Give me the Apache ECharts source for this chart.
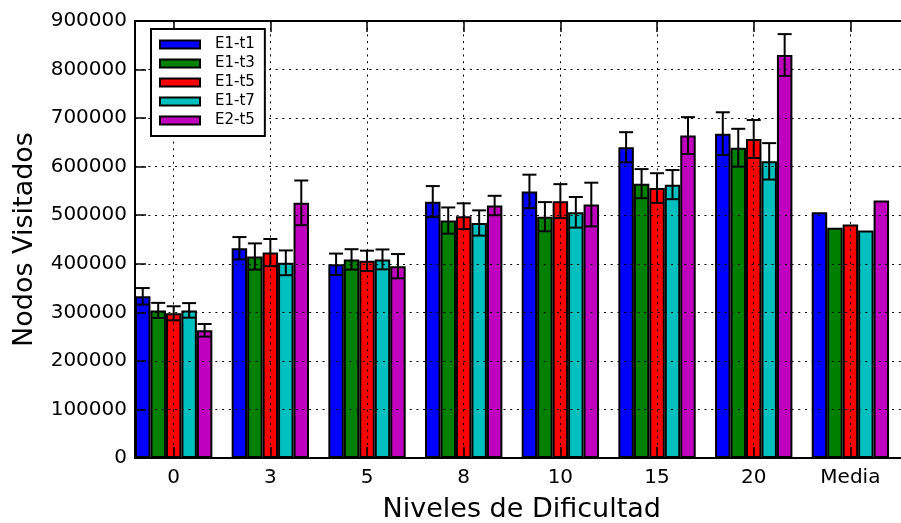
<!DOCTYPE html>
<html><head><meta charset="utf-8">
<script src="https://cdn.jsdelivr.net/npm/echarts@6/dist/echarts.min.js"></script>
<style>html,body{margin:0;padding:0;background:#fff}#c{width:901px;height:523px}</style>
</head><body><div id="c"></div>
<script>
const categories = ['0', '3', '5', '8', '10', '15', '20', 'Media'];
const seriesNames = ['E1-t1', 'E1-t3', 'E1-t5', 'E1-t7', 'E2-t5'];
const e1t1 = [333000, 432000, 399000, 528000, 549000, 640000, 668000, 506000];
const e1t1Err = [17000, 23000, 22000, 32000, 34500, 31000, 44000, null];
const e1t3 = [304000, 415000, 409000, 489000, 497000, 565000, 639000, 474000];
const e1t3Err = [15500, 27000, 21000, 27000, 30000, 30000, 39000, null];
const e1t5 = [298000, 423000, 406000, 498000, 529000, 556000, 657000, 481000];
const e1t5Err = [14500, 28000, 21000, 26500, 35000, 30500, 39000, null];
const e1t7 = [304000, 402000, 409000, 484000, 506000, 563000, 611000, 468500];
const e1t7Err = [15000, 25500, 20500, 26000, 31500, 30000, 37500, null];
const e2t5 = [263000, 525500, 395000, 520000, 522000, 664000, 830000, 530500];
const e2t5Err = [13000, 46000, 25000, 20000, 45000, 38000, 43000, null];
const yTicks = { min: 0, max: 900000, interval: 100000 };

const colors = ['#0000ff', '#008000', '#ff0000', '#00bfbf', '#bf00bf'];
const valuesList = [e1t1, e1t3, e1t5, e1t7, e2t5];
const errList = [e1t1Err, e1t3Err, e1t5Err, e1t7Err, e2t5Err];
const FONT = 'DejaVu Sans';
const GRID = { left: 135, top: 21, width: 773.4, height: 437, containLabel: false, outerBoundsMode: 'none' };
const unitPx = GRID.width / 8;
const slot = 0.16;
const barW = slot * unitPx;

const series = [];
valuesList.forEach((vals, s) => {
  series.push({
    type: 'bar', name: seriesNames[s], barWidth: barW, barGap: '-100%',
    data: vals.map((v, i) => [i + (s - 2) * slot, v]),
    itemStyle: { color: colors[s], borderColor: '#000', borderWidth: 2 },
    z: 2, animation: false, silent: true
  });
});
const errData = [];
valuesList.forEach((vals, s) => vals.forEach((v, i) => {
  const e = errList[s][i];
  if (e != null) errData.push([i + (s - 2) * slot, v, e]);
}));
series.push({
  type: 'custom', z: 5, data: errData, silent: true, animation: false,
  encode: { x: 0, y: 1 },
  renderItem: (params, api) => {
    const x = api.value(0), v = api.value(1), e = api.value(2);
    const top = api.coord([x, v + e]);
    const bot = api.coord([x, v - e]);
    const hw = 7;
    const st = { stroke: '#000', lineWidth: 2 };
    return { type: 'group', children: [
      { type: 'line', shape: { x1: top[0], y1: top[1], x2: bot[0], y2: bot[1] }, style: st },
      { type: 'line', shape: { x1: top[0] - hw, y1: top[1], x2: top[0] + hw, y2: top[1] }, style: st },
      { type: 'line', shape: { x1: bot[0] - hw, y1: bot[1], x2: bot[0] + hw, y2: bot[1] }, style: st }
    ] };
  }
});

const xFmt = (v) => {
  const r = Math.round(v);
  return Math.abs(v - r) < 1e-6 && categories[r] !== undefined ? categories[r] : '';
};
const yFmt = (v) => String(Math.round(v));
const dotted = { color: '#000', width: 1, type: [2, 4.7] };

const chart = echarts.init(document.getElementById('c'), null, { renderer: 'canvas' });
chart.setOption({
  animation: false,
  backgroundColor: '#fff',
  grid: GRID,
  legend: {
    data: seriesNames, orient: 'vertical', left: 151, top: 29,
    backgroundColor: '#fff', borderColor: '#000', borderWidth: 2,
    padding: [8, 10, 8, 8], itemGap: 4, itemWidth: 40, itemHeight: 8,
    icon: 'rect', selectedMode: false,
    itemStyle: { borderColor: '#000', borderWidth: 2 },
    textStyle: { fontFamily: FONT, fontSize: 15, color: '#000', lineHeight: 14, padding: [0, 0, 0, 10] }
  },
  xAxis: [{
    type: 'value', min: -0.4, max: 7.6, splitNumber: 8, position: 'bottom', z: 3,
    axisLine: { show: true, onZero: false, lineStyle: { color: '#000', width: 2 } },
    axisTick: { show: true, inside: true, length: 11, lineStyle: { color: '#000', width: 1.5 } },
    axisLabel: { formatter: xFmt, margin: 10, color: '#000', fontSize: 20, fontFamily: FONT },
    splitLine: { show: true, lineStyle: dotted },
    name: 'Niveles de Dificultad', nameLocation: 'middle', nameGap: 38,
    nameTextStyle: { fontSize: 27, color: '#000', fontFamily: FONT }
  }, {
    type: 'value', min: -0.4, max: 7.6, splitNumber: 8, position: 'top', z: 3,
    axisLine: { show: true, onZero: false, lineStyle: { color: '#000', width: 2 } },
    axisTick: { show: true, inside: true, length: 11, lineStyle: { color: '#000', width: 1.5 } },
    axisLabel: { show: false }, splitLine: { show: false }
  }],
  yAxis: [{
    type: 'value', min: yTicks.min, max: yTicks.max, interval: yTicks.interval, z: 3,
    axisLine: { show: true, onZero: false, lineStyle: { color: '#000', width: 2 } },
    axisTick: { show: true, inside: true, length: 11, lineStyle: { color: '#000', width: 1.5 } },
    axisLabel: { formatter: yFmt, margin: 8, color: '#000', fontSize: 20, fontFamily: FONT },
    splitLine: { show: true, lineStyle: dotted },
    name: 'Nodos Visitados', nameLocation: 'middle', nameRotate: 90, nameGap: 97,
    nameTextStyle: { fontSize: 27, color: '#000', fontFamily: FONT }
  }],
  series: series
});
</script></body></html>
